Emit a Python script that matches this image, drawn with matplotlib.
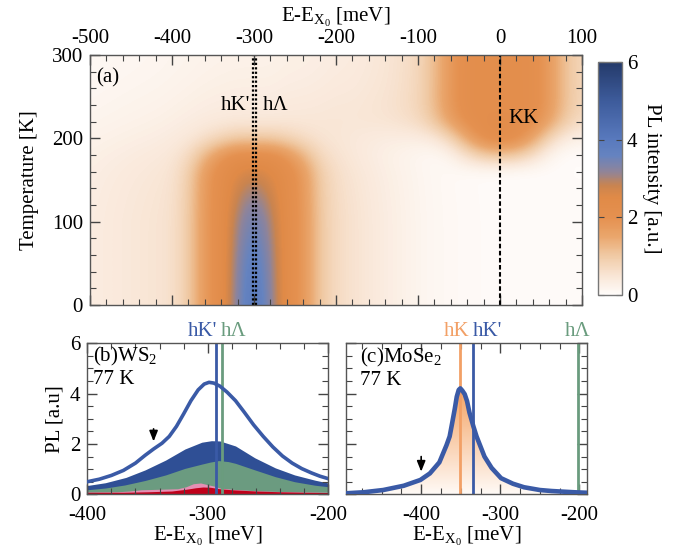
"""
PL map vs temperature (a) + 77 K spectra for WS2 (b) and MoSe2 (c)
"""

import numpy as np
import matplotlib
matplotlib.use("Agg")
import matplotlib.pyplot as plt
from matplotlib.colors import LinearSegmentedColormap
from matplotlib.ticker import MultipleLocator

# =========================================================
# Data
# =========================================================
# (a) map: sum of components = energy profile x temperature envelope
# energy nodes every 20 meV, temperature nodes every 20 K
E_NODES = [-500, -480, -460, -440, -420, -400, -380, -360, -340, -320, -300,
           -280, -260, -240, -220, -200, -180, -160, -140, -120, -100,
           -80, -60, -40, -20, 0, 20, 40, 60, 80, 100]
T_NODES = [0, 20, 40, 60, 80, 100, 120, 140, 160, 180, 200, 220, 240, 260, 280, 300]

DOME_AMP = 1.5
DOME_PROF = [0, 0, 0, 0, 0, 0, 0.2, 0.7, 1, 1, 1,
             1, 1, 0.7, 0.2, 0.03, 0, 0, 0, 0, 0,
             0, 0, 0, 0, 0, 0, 0, 0, 0, 0]
DOME_ENV = [1, 1, 1, 1, 1, 1, 1, 1, 0.97, 0.5, 0.05, 0, 0, 0, 0, 0]
DOME_TOP_PROF = [0, 0, 0, 0, 0, 0, 0, 0.2, 0.6, 1, 1,
                 1, 0.6, 0.2, 0, 0, 0, 0, 0, 0, 0,
                 0, 0, 0, 0, 0, 0, 0, 0, 0, 0]
DOME_TOP_ENV = [0, 0, 0, 0, 0, 0, 0, 0, 0.05, 0.5, 0.25, 0, 0, 0, 0, 0]

CORE_AMP = 1.7
CORE_PROF = [0, 0, 0, 0, 0, 0, 0, 0, -0.05, 0.6, 1,
             0.55, -0.05, 0, 0, 0, 0, 0, 0, 0, 0,
             0, 0, 0, 0, 0, 0, 0, 0, 0, 0]
CORE_ENV = [1, 0.97, 0.93, 0.88, 0.8, 0.72, 0.6, 0.45, 0.25, 0, 0, 0, 0, 0, 0, 0]

HALO_AMP = 0.85
HALO_PROF = [0.4, 0.45, 0.5, 0.55, 0.6, 0.68, 0.78, 0.88, 0.95, 1, 1,
             1, 0.97, 0.93, 0.86, 0.76, 0.65, 0.52, 0.4, 0.3, 0.2,
             0.13, 0.09, 0.07, 0.05, 0.04, 0.03, 0.03, 0.03, 0.03, 0.03]
HALO_ENV = [1, 1, 1, 1, 1, 1, 0.98, 0.95, 0.9, 0.8, 0.65, 0.52, 0.43, 0.36, 0.31, 0.28]

KK_AMP = 2.15
KK_PROF = [0, 0, 0, 0, 0, 0, 0, 0, 0, 0, 0,
           0, 0.02, 0.03, 0.05, 0.08, 0.1, 0.14, 0.18, 0.24, 0.33,
           0.55, 0.85, 1, 1, 1, 1, 1, 0.8, 0.5, 0.35]
KK_ENV = [0, 0, 0, 0, 0, 0, 0, 0, 0, 0, 0.3, 0.85, 1, 1, 1, 1]
KK_LOW_PROF = [0, 0, 0, 0, 0, 0, 0, 0, 0, 0, 0,
               0, 0, 0, 0, 0, 0, 0, 0, 0, 0,
               0, 0.15, 0.55, 0.9, 1, 0.9, 0.55, 0.15, 0, 0]
KK_LOW_ENV = [0, 0, 0, 0, 0, 0, 0, 0, 0, 0.5, 0.75, 0.2, 0, 0, 0, 0]

MAP_LINES_HK = [-301, -297]
MAP_LINE_KK = 0

# (b) WS2 77 K
B_OUTER_E = [-400, -390, -380, -370, -360, -352, -345, -338, -332, -326, -320, -314,
             -308, -303, -299, -295, -290, -284, -277, -270, -262, -254, -246, -238,
             -230, -222, -214, -207, -200]
B_OUTER = [0.50, 0.60, 0.75, 0.95, 1.24, 1.55, 1.80, 2.03, 2.30, 2.70, 3.20, 3.72,
           4.15, 4.38, 4.45, 4.42, 4.30, 4.06, 3.72, 3.28, 2.76, 2.30, 1.88, 1.52,
           1.24, 1.02, 0.85, 0.72, 0.62]
B_BLUE_E = [-400, -385, -368, -352, -335, -319, -305, -297, -290, -277, -261, -244, -228, -211, -200]
B_BLUE = [0.35, 0.46, 0.67, 0.97, 1.36, 1.80, 2.07, 2.13, 2.12, 1.92, 1.45, 1.05, 0.77, 0.56, 0.45]
B_GREEN_E = [-400, -385, -369, -352, -335, -319, -305, -298, -291, -283, -277, -261, -244, -228, -211, -200]
B_GREEN = [0.18, 0.25, 0.37, 0.55, 0.77, 1.03, 1.20, 1.28, 1.34, 1.30, 1.23, 0.97, 0.70, 0.50, 0.36, 0.30]
B_PINK_E = [-400, -375, -365, -355, -340, -325, -318, -312, -306, -300, -295, -290, -280, -260, -240, -220, -200]
B_PINK = [0.09, 0.10, 0.13, 0.18, 0.20, 0.22, 0.30, 0.42, 0.45, 0.38, 0.33, 0.25, 0.20, 0.14, 0.11, 0.09, 0.08]
B_RED_E = [-400, -370, -350, -330, -318, -310, -304, -298, -290, -280, -260, -240, -220, -200]
B_RED = [0.08, 0.08, 0.10, 0.13, 0.20, 0.26, 0.29, 0.28, 0.22, 0.18, 0.13, 0.10, 0.08, 0.07]
B_LINES = {"hK'": -293, "h\u039b": -288}
B_ARROW = (-345, 2.1, 2.6)

# (c) MoSe2 77 K
C_E = [-495, -473, -448, -422, -401, -389, -377, -368, -364, -361, -357.5, -355,
       -352.5, -350.5, -348, -345, -342, -339, -334, -330, -326, -320, -311, -299,
       -284, -270, -250, -235, -206, -190]
C_PL = [0.04, 0.08, 0.17, 0.34, 0.57, 0.83, 1.27, 1.95, 2.30, 2.80, 3.40, 3.88,
        4.15, 4.21, 4.12, 3.98, 3.70, 3.25, 2.70, 2.30, 1.98, 1.50, 1.05, 0.64,
        0.42, 0.28, 0.17, 0.13, 0.08, 0.06]
C_LINES = {"hK": -350.6, "hK'": -334.7, "h\u039b": -202}
C_ARROW = (-400, 0.9, 1.5)

# =========================================================
# Style
# =========================================================
plt.rcParams["font.family"] = ["Liberation Serif", "DejaVu Serif"]
plt.rcParams["mathtext.fontset"] = "custom"
plt.rcParams["mathtext.rm"] = "Liberation Serif"
plt.rcParams["mathtext.it"] = "Liberation Serif:italic"
plt.rcParams["font.size"] = 15
plt.rcParams["axes.unicode_minus"] = False
plt.rcParams["axes.edgecolor"] = "#555555"
plt.rcParams["axes.linewidth"] = 1.0

BLUE = "#3a5aa6"
GREEN = "#6a9c7e"
ORANGE = "#f2a066"
XLABEL = r"E-E$_{\mathrm{X}_{0}}$ [meV]"
ARROW = dict(arrowstyle="-|>,head_width=0.18,head_length=0.45", color="k",
             lw=1.2, mutation_scale=14, shrinkA=0, shrinkB=0)

pl_cmap = LinearSegmentedColormap.from_list("pl", [
    (0.0, "#fffcfa"), (0.08, "#f9e6d6"), (0.17, "#f0c9a3"), (0.25, "#eaa66c"),
    (0.33, "#e59150"), (0.42, "#e08a47"), (0.47, "#c98450"), (0.53, "#8f849a"),
    (0.6, "#6583c0"), (0.67, "#5879bd"), (0.83, "#3e5c9c"), (1.0, "#243a6a")])


def style_ticks(ax, xmaj, xmin, ymaj, ymin):
    ax.xaxis.set_major_locator(MultipleLocator(xmaj))
    ax.xaxis.set_minor_locator(MultipleLocator(xmin))
    ax.yaxis.set_major_locator(MultipleLocator(ymaj))
    ax.yaxis.set_minor_locator(MultipleLocator(ymin))
    ax.tick_params(which="both", direction="in", top=True, bottom=True,
                   left=True, right=True, color="#444444")
    ax.tick_params(which="major", length=7, width=1, pad=5)
    ax.tick_params(which="minor", length=4, width=0.8)


fig = plt.figure(figsize=(6.89, 5.48), dpi=100)

# =========================================================
# (a) temperature map
# =========================================================
ax_a = fig.add_axes([0.1306, 0.4434, 0.7141, 0.4562])
comps = [(DOME_AMP, DOME_ENV, DOME_PROF), (DOME_AMP, DOME_TOP_ENV, DOME_TOP_PROF),
         (CORE_AMP, CORE_ENV, CORE_PROF), (HALO_AMP, HALO_ENV, HALO_PROF),
         (KK_AMP, KK_ENV, KK_PROF), (KK_AMP, KK_LOW_ENV, KK_LOW_PROF)]
Z = sum(a * np.outer(env, prof) for a, env, prof in comps)
dE = (E_NODES[1] - E_NODES[0]) / 2
dT = (T_NODES[1] - T_NODES[0]) / 2
img = ax_a.imshow(Z, origin="lower", aspect="auto", cmap=pl_cmap, vmin=0, vmax=6,
                  interpolation="bicubic", interpolation_stage="data",
                  extent=[E_NODES[0] - dE, E_NODES[-1] + dE, T_NODES[0] - dT, T_NODES[-1] + dT])
for x in MAP_LINES_HK:
    ax_a.axvline(x, color="k", lw=1.6, ls=(0, (1, 1)))
ax_a.axvline(MAP_LINE_KK, color="k", lw=1.5, ls=(0, (2.2, 1.2)))
ax_a.set_xlim(-500, 100)
ax_a.set_ylim(0, 300)
style_ticks(ax_a, 100, 20, 100, 20)
ax_a.tick_params(labeltop=True, labelbottom=False)
ax_a.xaxis.set_label_position("top")
ax_a.set_xlabel(XLABEL, labelpad=5)
ax_a.set_ylabel("Temperature [K]", labelpad=9)
ax_a.text(-493, 272, "(a)", ha="left", va="center")
ax_a.text(-305, 240, "hK'", ha="right", va="center")
ax_a.text(-289, 240, "h\u039b", ha="left", va="center")
ax_a.text(10, 224, "KK", ha="left", va="center")

cax = fig.add_axes([0.868, 0.4617, 0.0348, 0.4252])
cb = fig.colorbar(img, cax=cax, ticks=[0, 2, 4, 6])
cb.outline.set_edgecolor("#777777")
cax.tick_params(direction="in", left=True, right=True, length=4, color="#444444")
cb.set_label("PL intensity [a.u.]", rotation=270, labelpad=17)

# =========================================================
# (b) WS2 spectra
# =========================================================
ax_b = fig.add_axes([0.1267, 0.098, 0.3498, 0.2755])
ax_b.fill_between(B_BLUE_E, 0, B_BLUE, color="#2f4f95", lw=0, zorder=1)
ax_b.fill_between(B_GREEN_E, 0, B_GREEN, color="#6b9b80", lw=0, zorder=1.1)
ax_b.fill_between(B_PINK_E, 0, B_PINK, color="#e58fb4", lw=0, zorder=1.2)
ax_b.fill_between(B_RED_E, 0, B_RED, color="#c0001a", lw=0, zorder=1.3)
ax_b.plot(B_OUTER_E, B_OUTER, color=BLUE, lw=2.6, zorder=3)
for (lab, x), col, ha in zip(B_LINES.items(), [BLUE, GREEN], ["right", "left"]):
    ax_b.axvline(x, color=col, lw=2, zorder=2)
    ax_b.text(x + (1 if ha == "right" else -1), 6.08, lab, color=col,
              ha=ha, va="bottom")
ax_b.annotate("", xy=(B_ARROW[0], B_ARROW[1]), xytext=(B_ARROW[0], B_ARROW[2]),
              arrowprops=ARROW)
ax_b.set_xlim(-400, -200)
ax_b.set_ylim(0, 6)
style_ticks(ax_b, 100, 20, 2, 0.5)
ax_b.tick_params(axis="x", which="major", pad=8.5)
ax_b.set_xlabel(XLABEL, labelpad=0)
ax_b.set_ylabel("PL [a.u]")
ax_b.text(-395, 5.27, "(b)WS$_2$", ha="left", va="baseline")
ax_b.text(-395, 4.38, "77 K", ha="left", va="baseline")

# =========================================================
# (c) MoSe2 spectra
# =========================================================
ax_c = fig.add_axes([0.5022, 0.098, 0.3502, 0.2755])
xl = (-495, -190)
shade = ax_c.fill_between(C_E, 0, C_PL, facecolor="none", edgecolor="none")
grad_cmap = LinearSegmentedColormap.from_list("grad", ["#fffaf6", "#f4a364"])
grad = ax_c.imshow(np.linspace(0, 1, 256).reshape(-1, 1), extent=[xl[0], xl[1], 0, max(C_PL)],
                   origin="lower", aspect="auto", cmap=grad_cmap, zorder=1)
grad.set_clip_path(shade.get_paths()[0], transform=ax_c.transData)
for (lab, x), col in zip(C_LINES.items(), [ORANGE, BLUE, GREEN]):
    ax_c.axvline(x, color=col, lw=2, zorder=2)
ax_c.text(C_LINES["hK"] - 4, 6.08, "hK", color=ORANGE, ha="center", va="bottom")
ax_c.text(C_LINES["hK'"], 6.08, "hK'", color=BLUE, ha="left", va="bottom")
ax_c.text(C_LINES["h\u039b"], 6.08, "h\u039b", color=GREEN, ha="center", va="bottom")
ax_c.plot(C_E, C_PL, color=BLUE, lw=3.3, zorder=3)
ax_c.annotate("", xy=(C_ARROW[0], C_ARROW[1]), xytext=(C_ARROW[0], C_ARROW[2]),
              arrowprops=ARROW)
ax_c.set_xlim(*xl)
ax_c.set_ylim(0, 6)
style_ticks(ax_c, 100, 25, 2, 0.5)
ax_c.tick_params(labelleft=False)
ax_c.tick_params(axis="x", which="major", pad=8.5)
ax_c.set_xlabel(XLABEL, labelpad=0)
ax_c.text(-477, 5.22, "(c)MoSe$_2$", ha="left", va="baseline")
ax_c.text(-477, 4.34, "77 K", ha="left", va="baseline")

fig.savefig("out.png", dpi=100)
plt.close(fig)
